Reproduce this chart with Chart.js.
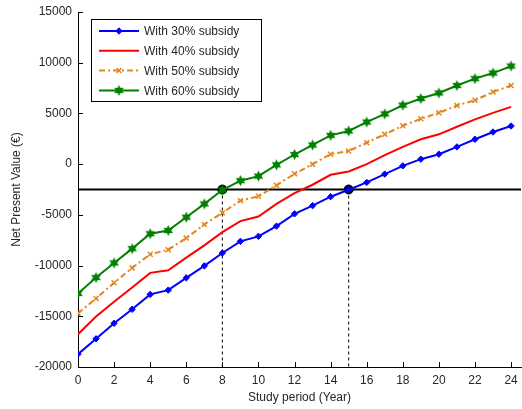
<!DOCTYPE html>
<html>
<head>
<meta charset="utf-8">
<script src="https://cdn.jsdelivr.net/npm/chart.js@4/dist/chart.umd.min.js"></script>
<style>
  html, body { margin: 0; padding: 0; background: #fff; }
  #wrap { position: relative; width: 522px; height: 409px; }
</style>
</head>
<body>
<div id="wrap"><canvas id="npvChart"></canvas></div>
<script>
// data (NPV in euro per year of study period)
const years = [0,1,2,3,4,5,6,7,8,9,10,11,12,13,14,15,16,17,18,19,20,21,22,23,24];
const npv30 = [-18730,-17220,-15690,-14310,-12840,-12420,-11210,-10030,-8760,-7610,-7120,-6110,-4900,-4090,-3210,-2520,-1800,-980,-170,490,980,1700,2450,3170,3760];
const npv40 = [-16770,-15030,-13560,-12160,-10720,-10460,-9220,-8010,-6700,-5620,-5160,-3920,-2850,-2030,-1050,-725,0,880,1710,2450,2940,3690,4410,5060,5650];
const npv50 = [-14710,-13240,-11700,-10230,-8890,-8430,-7290,-5950,-4800,-3600,-3170,-2090,-950,0,980,1300,2120,2940,3790,4470,5060,5780,6300,7120,7750];
const npv60 = [-12750,-11180,-9740,-8330,-6860,-6540,-5230,-3920,-2550,-1630,-1180,-70,950,1890,2840,3270,4150,4950,5820,6470,7020,7750,8430,8980,9670];
const seriesLabels = ['With 30% subsidy','With 40% subsidy','With 50% subsidy','With 60% subsidy'];

const thresholdNpv = -2500;
const crossYears = [8, 15];
const xTicks = [0,2,4,6,8,10,12,14,16,18,20,22,24];
const yTicks = [-20000,-15000,-10000,-5000,0,5000,10000,15000];
const xMax = 24.55;

const FONT = "'Liberation Sans', Arial, sans-serif";
const TEXT = '#262626';

// hexagram marker for the 60% series
function makeStar(color, r) {
    const c = document.createElement('canvas');
    const s = Math.ceil(r * 2 + 2);
    c.width = s; c.height = s;
    const g = c.getContext('2d');
    g.fillStyle = color;
    g.beginPath();
    for (let i = 0; i < 12; i++) {
        const a = -Math.PI / 2 + i * Math.PI / 6;
        const rr = i % 2 === 0 ? r : r * 0.55;
        const px = s / 2 + rr * Math.cos(a), py = s / 2 + rr * Math.sin(a);
        if (i === 0) g.moveTo(px, py); else g.lineTo(px, py);
    }
    g.closePath();
    g.fill();
    return c;
}
const greenStar = makeStar('#008000', 5.5);

const pts = vals => years.map((x, i) => ({ x: x, y: vals[i] }));

const mainSets = [
    { label: seriesLabels[0], data: pts(npv30), borderColor: '#0000ff', backgroundColor: '#0000ff',
      borderWidth: 2, pointStyle: 'rectRot', pointRadius: 3.2, pointBorderWidth: 1 },
    { label: seriesLabels[1], data: pts(npv40), borderColor: '#ff0000', backgroundColor: '#ff0000',
      borderWidth: 2, pointRadius: 0 },
    { label: seriesLabels[2], data: pts(npv50), borderColor: '#e2861c', backgroundColor: '#e2861c',
      borderWidth: 2, borderDash: [6, 3, 2, 3], pointStyle: 'crossRot', pointRadius: 3.5, pointBorderWidth: 1.5 },
    { label: seriesLabels[3], data: pts(npv60), borderColor: '#008000', backgroundColor: '#008000',
      borderWidth: 2, pointStyle: greenStar, pointRadius: 5 }
];

const helperSets = [
    { data: [{ x: 0, y: thresholdNpv }, { x: xMax, y: thresholdNpv }], borderColor: '#000', borderWidth: 2, pointRadius: 0 },
    ...crossYears.map(yr => ({ data: [{ x: yr, y: thresholdNpv }, { x: yr, y: yTicks[0] }],
        borderColor: '#000', borderWidth: 1, borderDash: [3, 3], pointRadius: 0 })),
    { data: crossYears.map(yr => ({ x: yr, y: thresholdNpv })), showLine: false,
      pointRadius: 4.5, backgroundColor: '#000', borderColor: '#000' }
];

// inward ticks + boxed legend like the matlab figure
const matlabBits = {
    id: 'matlabBits',
    afterDatasetsDraw(chart) {
        const ctx = chart.ctx, a = chart.chartArea;
        const xs = chart.scales.x, ys = chart.scales.y;
        ctx.save();
        ctx.strokeStyle = '#000';
        ctx.lineWidth = 1;
        ctx.beginPath();
        xTicks.forEach(v => {
            const px = Math.round(xs.getPixelForValue(v)) + 0.5;
            ctx.moveTo(px, a.bottom); ctx.lineTo(px, a.bottom - 5);
        });
        yTicks.forEach(v => {
            const py = Math.round(ys.getPixelForValue(v)) + 0.5;
            ctx.moveTo(a.left, py); ctx.lineTo(a.left + 5, py);
        });
        ctx.stroke();

        // legend
        const bx = 91.5, by = 19.5, bw = 170, bh = 82;
        ctx.fillStyle = '#fff';
        ctx.fillRect(bx, by, bw, bh);
        ctx.strokeRect(bx, by, bw, bh);
        ctx.font = '12px ' + FONT;
        ctx.textBaseline = 'middle';
        mainSets.forEach((ds, i) => {
            const ly = 31 + i * 19.8;
            ctx.strokeStyle = ds.borderColor;
            ctx.lineWidth = 2;
            ctx.setLineDash(ds.borderDash || []);
            ctx.beginPath();
            ctx.moveTo(99, ly); ctx.lineTo(139, ly);
            ctx.stroke();
            ctx.setLineDash([]);
            if (ds.pointRadius > 0) {
                ctx.fillStyle = ds.backgroundColor;
                ctx.lineWidth = ds.pointBorderWidth || 1;
                Chart.helpers.drawPoint(ctx, { pointStyle: ds.pointStyle, radius: ds.pointRadius, borderWidth: ds.pointBorderWidth || 1, rotation: 0 }, 119, ly);
            }
            ctx.fillStyle = TEXT;
            ctx.fillText(ds.label, 144, ly + 1);
        });
        ctx.restore();
    }
};

new Chart(document.getElementById('npvChart'), {
    type: 'line',
    data: { datasets: [...mainSets, ...helperSets] },
    options: {
        responsive: true,
        maintainAspectRatio: false,
        animation: false,
        layout: { autoPadding: false, padding: { left: 0, top: 12, right: 1, bottom: 0 } },
        plugins: { legend: { display: false }, tooltip: { enabled: false } },
        elements: { line: { tension: 0 } },
        scales: {
            x: {
                type: 'linear', min: 0, max: xMax,
                afterBuildTicks: s => { s.ticks = xTicks.map(v => ({ value: v })); },
                afterFit: s => { s.height = 42; s.paddingLeft = 0; s.paddingRight = 0; },
                grid: { display: false, drawTicks: false },
                border: { display: true, color: '#000', width: 1 },
                ticks: { color: TEXT, font: { family: FONT, size: 12 }, padding: 6, maxRotation: 0 },
                title: { display: true, text: 'Study period (Year)', color: TEXT,
                         font: { family: FONT, size: 12 }, padding: { top: 0, bottom: 4 } }
            },
            y: {
                type: 'linear', min: -20000, max: 15000,
                afterBuildTicks: s => { s.ticks = yTicks.map(v => ({ value: v })); },
                afterFit: s => { s.width = 78; s.paddingTop = 0; s.paddingBottom = 0; },
                grid: { display: false, drawTicks: false },
                border: { display: true, color: '#000', width: 1 },
                ticks: { color: TEXT, font: { family: FONT, size: 12 }, padding: 6,
                         callback: v => String(v) },
                title: { display: true, text: 'Net Present Value (€)', color: TEXT,
                         font: { family: FONT, size: 12 }, padding: { top: 9, bottom: 0 } }
            }
        }
    },
    plugins: [matlabBits]
});
</script>
</body>
</html>
